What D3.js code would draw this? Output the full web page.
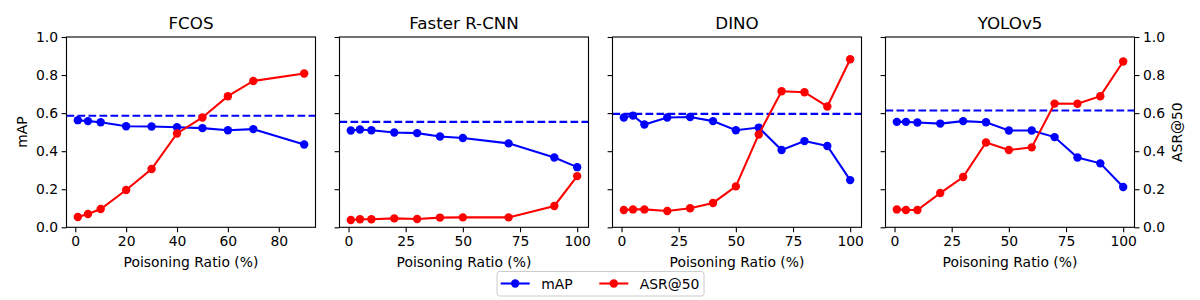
<!DOCTYPE html>
<html lang="en">
<head>
<meta charset="UTF-8">
<title>Poisoning Ratio panels</title>
<script src="https://cdn.jsdelivr.net/npm/d3@7"></script>
<style>
  body { margin: 0; background: #fff; }
  svg text { font-family: "DejaVu Sans", sans-serif; }
</style>
</head>
<body>
<svg id="main" width="1200" height="300"></svg>
<script>
// data
const models = ["FCOS", "Faster R-CNN", "DINO", "YOLOv5"];

const ratiosFcos = [1, 5, 10, 20, 30, 40, 50, 60, 70, 90];
const ratiosFrcnn = [1, 5, 10, 20, 30, 40, 50, 70, 90, 100];
const ratiosFull = [1, 5, 10, 20, 30, 40, 50, 60, 70, 80, 90, 100];

const mapFcos = [0.563, 0.558, 0.552, 0.531, 0.530, 0.526, 0.521, 0.510, 0.516, 0.435];
const asrFcos = [0.054, 0.070, 0.096, 0.196, 0.306, 0.493, 0.577, 0.689, 0.769, 0.808];
const mapFrcnn = [0.509, 0.514, 0.510, 0.498, 0.495, 0.477, 0.469, 0.441, 0.367, 0.316];
const asrFrcnn = [0.038, 0.042, 0.042, 0.047, 0.044, 0.051, 0.052, 0.052, 0.112, 0.269];
const mapDino = [0.577, 0.587, 0.540, 0.577, 0.580, 0.558, 0.510, 0.524, 0.406, 0.453, 0.427, 0.248];
const asrDino = [0.091, 0.094, 0.094, 0.086, 0.100, 0.128, 0.215, 0.488, 0.715, 0.710, 0.635, 0.883];
const mapYolo = [0.554, 0.554, 0.551, 0.545, 0.558, 0.552, 0.509, 0.509, 0.474, 0.367, 0.336, 0.212];
const asrYolo = [0.094, 0.091, 0.091, 0.180, 0.264, 0.446, 0.406, 0.420, 0.650, 0.649, 0.689, 0.871];

const cleanMap = [0.586, 0.554, 0.596, 0.614];   // dashed baseline per model

const xTicks = [[0, 20, 40, 60, 80], [0, 25, 50, 75, 100], [0, 25, 50, 75, 100], [0, 25, 50, 75, 100]];
const yTicks = [0, 0.2, 0.4, 0.6, 0.8, 1.0];

const panels = [
  { x: ratiosFcos, map: mapFcos, asr: asrFcos },
  { x: ratiosFrcnn, map: mapFrcnn, asr: asrFrcnn },
  { x: ratiosFull, map: mapDino, asr: asrDino },
  { x: ratiosFull, map: mapYolo, asr: asrYolo }
];

const svg = d3.select("svg#main");
const plotTop = 37, plotBottom = 227.3;
const panelW = 249, panelStep = 273, left0 = 66.5;
const fs = 13.9;

const y = d3.scaleLinear().domain([0, 1]).range([plotBottom, plotTop]);

panels.forEach(function(p, i) {
  const x0 = left0 + i * panelStep;
  const lo = d3.min(p.x), hi = d3.max(p.x), pad = (hi - lo) * 0.05;
  const x = d3.scaleLinear().domain([lo - pad, hi + pad]).range([x0, x0 + panelW]);

  const g = svg.append("g");

  // dashed clean mAP
  g.append("line")
    .attr("x1", x0).attr("x2", x0 + panelW)
    .attr("y1", y(cleanMap[i])).attr("y2", y(cleanMap[i]))
    .attr("stroke", "blue").attr("stroke-width", 2.08)
    .attr("stroke-dasharray", "7.7,3.3");

  const line = d3.line().x(d => x(d[0])).y(d => y(d[1]));
  [["blue", p.map], ["red", p.asr]].forEach(function(s) {
    const pts = p.x.map((v, k) => [v, s[1][k]]);
    g.append("path").datum(pts)
      .attr("d", line).attr("fill", "none")
      .attr("stroke", s[0]).attr("stroke-width", 2.08);
    g.selectAll(null).data(pts).enter().append("circle")
      .attr("cx", d => x(d[0])).attr("cy", d => y(d[1]))
      .attr("r", 4.2).attr("fill", s[0]);
  });

  // axes
  const xa = g.append("g").attr("transform", "translate(0," + plotBottom + ")")
    .call(d3.axisBottom(x).tickValues(xTicks[i]).tickSize(4.9).tickPadding(3.5).tickFormat(d3.format("d")));
  const ya = g.append("g").attr("transform", "translate(" + x0 + ",0)")
    .call(d3.axisLeft(y).tickValues(yTicks).tickSize(4.9).tickPadding(3.5)
      .tickFormat(i === 0 ? d3.format(".1f") : ""));
  [xa, ya].forEach(a => {
    a.select(".domain").remove();
    a.selectAll("line").attr("stroke", "#000").attr("stroke-width", 1.1);
    a.selectAll("text").attr("font-size", fs).attr("fill", "#000").style("font-family", "DejaVu Sans");
  });
  if (i === 3) {
    const ra = g.append("g").attr("transform", "translate(" + (x0 + panelW) + ",0)")
      .call(d3.axisRight(y).tickValues(yTicks).tickSize(4.9).tickPadding(3.5).tickFormat(d3.format(".1f")));
    ra.select(".domain").remove();
    ra.selectAll("line").attr("stroke", "#000").attr("stroke-width", 1.1);
    ra.selectAll("text").attr("font-size", fs).attr("fill", "#000").style("font-family", "DejaVu Sans");
  }

  g.append("rect").attr("x", x0).attr("y", plotTop).attr("width", panelW).attr("height", plotBottom - plotTop)
    .attr("fill", "none").attr("stroke", "#000").attr("stroke-width", 1.1);

  g.append("text").attr("x", x0 + panelW / 2).attr("y", plotTop - 8.5)
    .attr("text-anchor", "middle").attr("font-size", 16.7).text(models[i]);

  g.append("text").attr("x", x0 + panelW / 2).attr("y", 267)
    .attr("text-anchor", "middle").attr("font-size", fs).text("Poisoning Ratio (%)");
});

svg.append("text").attr("transform", "translate(27," + ((plotTop + plotBottom) / 2) + ") rotate(-90)")
  .attr("text-anchor", "middle").attr("font-size", fs).text("mAP");
svg.append("text").attr("transform", "translate(1182," + ((plotTop + plotBottom) / 2) + ") rotate(-90)")
  .attr("text-anchor", "middle").attr("font-size", fs).text("ASR@50");

// legend
const legendItems = [["mAP", "blue", 500.7], ["ASR@50", "red", 599.3]];
const lg = svg.append("g");
lg.append("rect").attr("x", 497).attr("y", 271.5).attr("width", 207).attr("height", 24.5)
  .attr("rx", 2.5).attr("fill", "#fff").attr("fill-opacity", 0.8)
  .attr("stroke", "#cccccc").attr("stroke-width", 1);
legendItems.forEach(function(it) {
  lg.append("line").attr("x1", it[2]).attr("x2", it[2] + 29).attr("y1", 283.5).attr("y2", 283.5)
    .attr("stroke", it[1]).attr("stroke-width", 2.08);
  lg.append("circle").attr("cx", it[2] + 14.5).attr("cy", 283.5).attr("r", 4.2).attr("fill", it[1]);
  lg.append("text").attr("x", it[2] + 40.5).attr("y", 283.5).attr("dy", "0.36em")
    .attr("font-size", fs).text(it[0]);
});
</script>
</body>
</html>
